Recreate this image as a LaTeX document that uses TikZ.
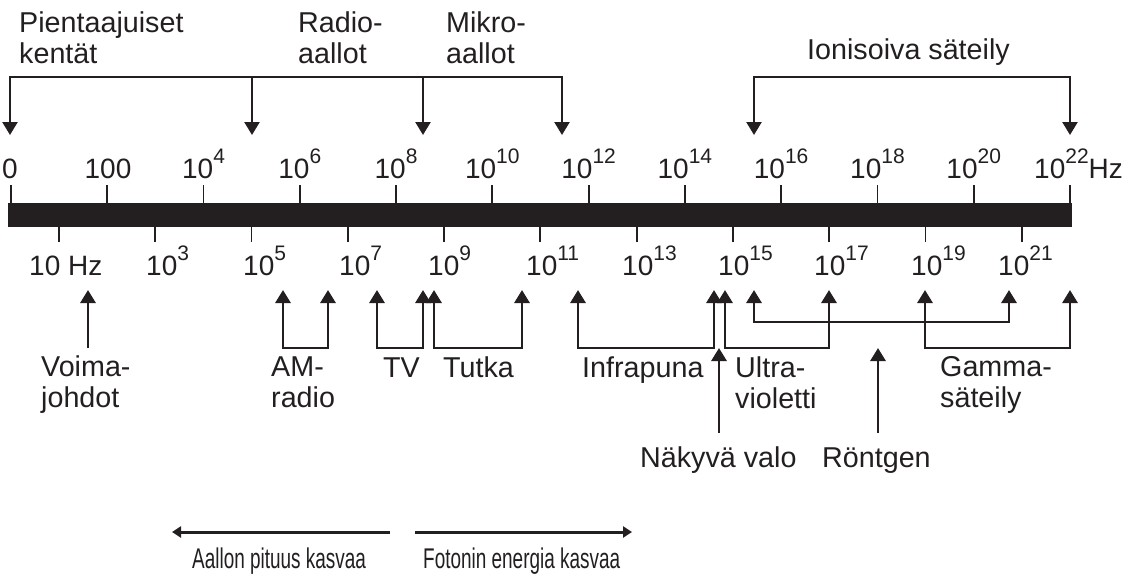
\documentclass[tikz,border=0pt]{standalone}
\usepackage{fontspec}
\setmainfont{Liberation Sans}
\newfontfamily\narrowfont[FakeStretch=0.665]{Liberation Sans}
\usetikzlibrary{arrows.meta,positioning}
\definecolor{ink}{RGB}{35,31,32}
\newcommand{\tenp}[1]{10\raisebox{0.52em}{\fontsize{21}{21}\selectfont #1}}

\begin{document}
\begin{tikzpicture}[x=1pt,y=-1pt,ink,
    lbl/.style={inner sep=0pt,align=left,anchor=base west,font=\fontsize{28.7}{30.5}\selectfont},
    num/.style={inner sep=0pt,anchor=base,font=\fontsize{28}{28}\selectfont},
    arr/.style={-{Triangle[width=15pt,length=13pt]},line width=2.9pt},
    bracket/.style={{Triangle[width=15pt,length=13pt]}-{Triangle[width=15pt,length=13pt]},line width=2.9pt,line join=miter},
    axtick/.style={line width=1.8pt},
    trend/.style={-{Triangle[width=11pt,length=9pt]},line width=3pt}]
\useasboundingbox (0,0) rectangle (1132,576);

% frequency bar with ticks
\node[fill=ink,inner sep=0pt,minimum width=1064pt,minimum height=24pt,anchor=north west] (bar) at (8,203) {};
\foreach \i in {0,...,11} \draw[axtick] (11+96.27*\i,203) -- ++(0,-18);
\foreach \i in {0,...,10} \draw[axtick] (59+96.27*\i,227) -- ++(0,15);

% numbers above the bar
\node[num] (t0) at (10,178) {0};
\node[num] (t2) at (108,178) {100};
\foreach \e [count=\i from 2] in {4,6,...,20}
    \node[num] (t\e) at (11+96.27*\i,178) {\tenp{\e}};
\node[num,anchor=base west] (t22) at (1034,178) {\tenp{22}Hz};

% numbers below the bar
\node[num,anchor=base west] (b1) at (29,275) {10 Hz};
\foreach \x/\e in {146/3,243/5,339/7,428/9,526/11,622/13,718/15,814/17,911/19,998/21}
    \node[num,anchor=base west] (b\e) at (\x,275) {\tenp{\e}};

% upper groups (base = last line)
\node[lbl] (pienta) at (19,63) {Pientaajuiset\\kentät};
\node[lbl] (radio) at (298,63) {Radio-\\aallot};
\node[lbl] (mikro) at (446,63) {Mikro-\\aallot};
\node[lbl] (ioni) at (807,59) {Ionisoiva säteily};

\coordinate (pk) at (10,77);
\coordinate (ra) at (252,77);
\coordinate (mi) at (423,77);
\coordinate (mr) at (562,77);
\coordinate (io1) at (754,77);
\coordinate (io2) at (1070,77);
\coordinate (pkT) at (10,135);
\coordinate (mrT) at (562,135);
\coordinate (io1T) at (754,135);
\coordinate (io2T) at (1070,135);
\draw[bracket,line width=2.4pt] (pkT) -- (pk) -- (mr) -- (mrT);
\draw[bracket,line width=2.4pt] (io1T) -- (io1) -- (io2) -- (io2T);
\foreach \c in {ra,mi} \draw[arr,line width=2.4pt] (\c) -- ++(0,58);

% lower groups
\node[lbl] (voima) at (41,407) {Voima-\\johdot};
\node[lbl] (am) at (271,407) {AM-\\radio};
\node[lbl] (tv) at (383,377) {TV};
\node[lbl] (tutka) at (443,377) {Tutka};
\node[lbl] (infra) at (582,377) {Infrapuna};
\node[lbl] (ultra) at (735,408) {Ultra-\\violetti};
\node[lbl] (gamma) at (940,407) {Gamma-\\säteily};
\node[lbl] (nakyva) at (640,467) {Näkyvä valo};
\node[lbl] (rontgen) at (822,467) {Röntgen};

\foreach \a/\b/\y in {283/328/348,377/423/348,434/522/348,578/714/348,725/829/348,925/1070/348,754/1009/322}
    \draw[bracket] (\a,290) -- (\a,\y) -- (\b,\y) -- (\b,290);

\coordinate (vo) at (88,348);
\coordinate (nv) at (719,433);
\coordinate (rt) at (878,433);
\draw[arr] (vo) -- ++(0,-58);
\draw[arr] (nv) -- ++(0,-85);
\draw[arr] (rt) -- ++(0,-85);

% trends
\node[lbl,font=\narrowfont\fontsize{28.5}{30}\selectfont] (aallon) at (192,568) {Aallon pituus kasvaa};
\node[lbl,font=\narrowfont\fontsize{28.5}{30}\selectfont] (fotonin) at (423,568) {Fotonin energia kasvaa};
\coordinate (wl1) at (390,532);
\coordinate (wl2) at (172,532);
\coordinate (fe1) at (415,532);
\coordinate (fe2) at (632,532);
\draw[trend] (wl1) -- (wl2);
\draw[trend] (fe1) -- (fe2);
\end{tikzpicture}
\end{document}
